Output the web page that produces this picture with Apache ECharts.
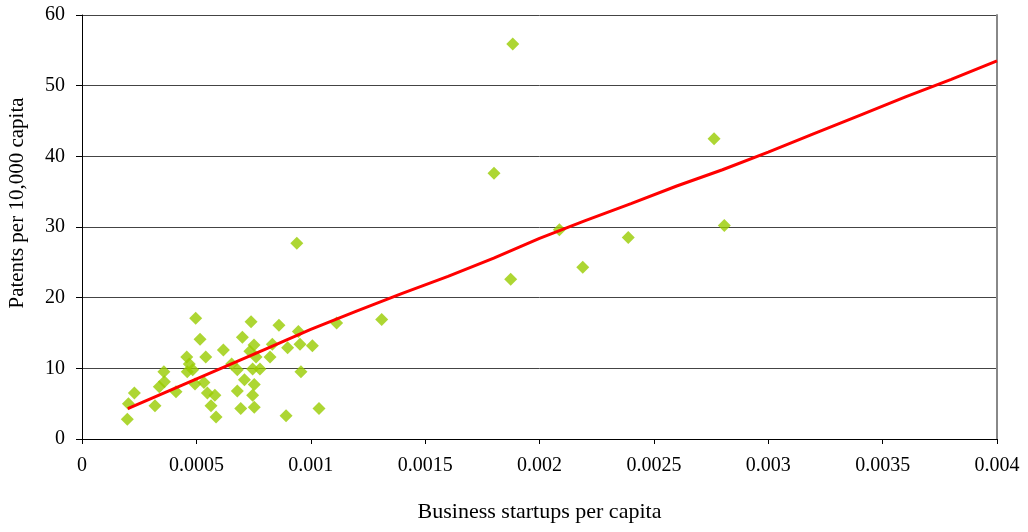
<!DOCTYPE html>
<html>
<head>
<meta charset="utf-8">
<script src="https://cdn.jsdelivr.net/npm/echarts@6/dist/echarts.min.js"></script>
<style>
html,body{margin:0;padding:0;background:#fff;}
#chart{width:1028px;height:532px;}
</style>
</head>
<body>
<div id="chart"></div>
<script>
// Scatter data: business startups per capita (x) vs patents per 10,000 capita (y)
const startups = [
  0.000198,0.000203,0.000229,0.000319,0.000338,0.000360,0.000358,0.000411,
  0.000497,0.000516,0.000458,0.000469,0.000460,0.000484,0.000494,0.000541,
  0.000533,0.000548,0.000581,0.000564,0.000586,0.000618,0.000654,0.000679,
  0.000679,0.000710,0.000694,0.000701,0.000739,0.000734,0.000752,0.000761,
  0.000746,0.000778,0.000753,0.000746,0.000753,0.000822,0.000832,0.000861,
  0.000899,0.000946,0.000953,0.001007,0.000957,0.000892,0.001036,0.001113,
  0.000939,0.001310,0.001883,0.001801,0.001874,0.002087,0.002189,0.002388,
  0.002763,0.002808
];
const patents = [
  2.8,5.0,6.5,4.7,7.4,8.1,9.5,6.7,
  17.1,14.1,11.6,10.6,9.5,9.8,7.8,11.6,
  8.0,6.5,6.2,4.7,3.1,12.6,10.6,9.8,
  6.8,8.4,4.3,14.4,16.6,12.4,13.3,11.6,
  9.9,9.9,7.7,6.2,4.5,11.6,13.4,16.1,
  12.9,15.2,13.4,13.2,9.5,3.3,4.3,16.4,
  27.7,16.9,55.9,37.6,22.6,29.6,24.3,28.5,
  42.5,30.2
];
// Trend line
const trendX = [0.0002,0.0004,0.0006,0.0008,0.0010,0.0012,0.0014,0.0016,0.0018,0.0020,
                0.0022,0.0024,0.0026,0.0028,0.0030,0.0032,0.0034,0.0036,0.0038,0.0040];
const trendY = [4.3,7.1,9.9,12.7,15.5,18.1,20.6,23.0,25.6,28.4,
                30.9,33.3,35.8,38.1,40.6,43.2,45.8,48.4,50.9,53.5];
const xTicks = ['0','0.0005','0.001','0.0015','0.002','0.0025','0.003','0.0035','0.004'];
const yTicks = ['0','10','20','30','40','50','60'];
const xTitle = 'Business startups per capita';
const yTitle = 'Patents per 10,000 capita';

const font = 'Liberation Serif, Times New Roman, serif';
const chart = echarts.init(document.getElementById('chart'));
chart.setOption({
  animation: false,
  backgroundColor: '#fff',
  grid: {left: 82, right: 31, top: 15, bottom: 93, containLabel: false, outerBoundsMode: 'none'},
  graphic: [{
    type: 'text',
    x: 17, y: 203,
    rotation: Math.PI / 2,
    style: {text: yTitle, font: '21px ' + font, fill: '#000', align: 'center', verticalAlign: 'middle'}
  }],
  xAxis: {
    type: 'value', min: 0, max: 0.004, interval: 0.0005,
    name: xTitle, nameLocation: 'middle', nameGap: 62,
    nameTextStyle: {fontFamily: font, fontSize: 22, color: '#000'},
    axisLine: {lineStyle: {color: '#000', width: 1}},
    axisTick: {show: true, length: 5, lineStyle: {color: '#000'}},
    axisLabel: {fontFamily: font, fontSize: 20, color: '#000', margin: 17,
      formatter: v => xTicks[Math.round(v / 0.0005)]},
    splitLine: {show: false}
  },
  yAxis: [{
    type: 'value', min: 0, max: 60, interval: 10,
    axisLine: {show: true, lineStyle: {color: '#000', width: 1}},
    axisTick: {show: true, length: 6, lineStyle: {color: '#000'}},
    axisLabel: {fontFamily: font, fontSize: 20, color: '#000', margin: 17,
      formatter: v => yTicks[Math.round(v / 10)]},
    splitLine: {show: true, lineStyle: {color: '#444', width: 1}}
  }, {
    type: 'value', min: 0, max: 60, position: 'right',
    axisLine: {show: true, lineStyle: {color: '#888', width: 2}},
    axisTick: {show: false}, axisLabel: {show: false}, splitLine: {show: false}
  }],
  series: [{
    type: 'scatter',
    symbol: 'diamond', symbolSize: 13,
    itemStyle: {color: '#99CC00'},
    data: startups.map((x, i) => [x, patents[i]]),
    z: 2
  }, {
    type: 'line',
    showSymbol: false, smooth: false,
    lineStyle: {color: '#FF0000', width: 3},
    data: trendX.map((x, i) => [x, trendY[i]]),
    z: 3
  }]
});
</script>
</body>
</html>
